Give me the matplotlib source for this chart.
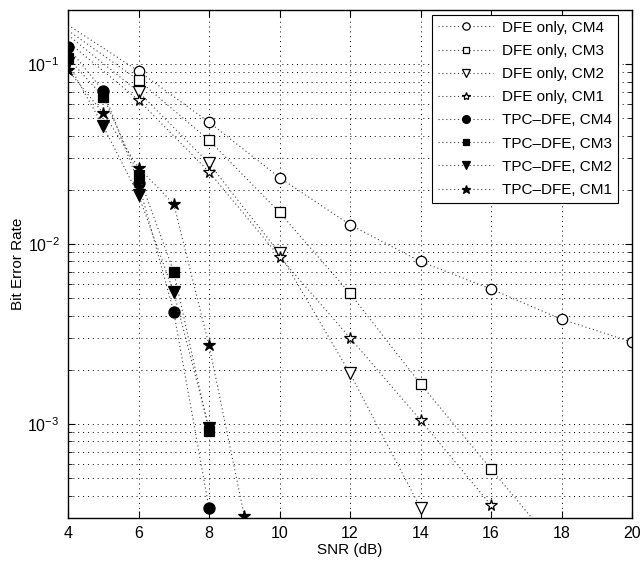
import matplotlib
matplotlib.use("Agg")
import matplotlib.pyplot as plt
from matplotlib.ticker import LogLocator, NullFormatter, FixedLocator

plt.rcParams['font.family'] = ['Liberation Sans', 'DejaVu Sans']
plt.rcParams['mathtext.fontset'] = 'custom'
plt.rcParams['mathtext.rm'] = 'Liberation Sans'

# DFE only (first point at 4 dB drawn as line only)
dfe_x = [4, 6, 8, 10, 12, 14, 16, 18, 20]
dfe_cm4 = [0.165, 0.0915, 0.0476, 0.0234, 0.0128, 0.0080, 0.00562, 0.00382, 0.00285]
dfe_cm3_x = [4, 6, 8, 10, 12, 14, 16, 18]
dfe_cm3 = [0.154, 0.0815, 0.0378, 0.0150, 0.00532, 0.00167, 0.000562, 0.00019]
dfe_cm2_x = [4, 6, 8, 10, 12, 14]
dfe_cm2 = [0.145, 0.0702, 0.0281, 0.0089, 0.00191, 0.000341]
dfe_cm1_x = [4, 6, 8, 10, 12, 14, 16]
dfe_cm1 = [0.133, 0.0631, 0.0252, 0.0085, 0.00301, 0.00105, 0.000353]

# TPC-DFE
tpc_x = [4, 5, 6, 7, 8]
tpc_cm4 = [0.124, 0.071, 0.0219, 0.00419, 0.000341]
tpc_cm3 = [0.108, 0.066, 0.0242, 0.00702, 0.000916]
tpc_cm2 = [0.101, 0.0452, 0.0187, 0.00539, 0.00095]
tpc_cm1_x = [4, 5, 6, 7, 8, 9]
tpc_cm1 = [0.0926, 0.0534, 0.0266, 0.0167, 0.00274, 0.000309]

labels = ['DFE only, CM4', 'DFE only, CM3', 'DFE only, CM2', 'DFE only, CM1',
          'TPC\u2013DFE, CM4', 'TPC\u2013DFE, CM3', 'TPC\u2013DFE, CM2', 'TPC\u2013DFE, CM1']
x_ticks = [4, 6, 8, 10, 12, 14, 16, 18, 20]

fig = plt.figure(figsize=(6.41, 5.61), dpi=100)
ax = fig.add_axes([68/641, 1-518/561, (632-68)/641, (518-10)/561])

ls = (0, (1, 2.5))
lc = '0.25'
lw = 0.8

def dfe(x, y, m, ms, lab):
    ax.plot(x, y, linestyle=ls, color=lc, lw=lw, marker=m, ms=ms, mfc='white',
            mec='k', mew=0.9, markevery=list(range(1, len(x))), label=lab)

def tpc(x, y, m, ms, lab):
    ax.plot(x, y, linestyle=ls, color=lc, lw=lw, marker=m, ms=ms, mfc='k',
            mec='k', mew=0.9, label=lab)

dfe(dfe_x, dfe_cm4, 'o', 7.5, labels[0])
dfe(dfe_cm3_x, dfe_cm3, 's', 7, labels[1])
dfe(dfe_cm2_x, dfe_cm2, 'v', 8, labels[2])
dfe(dfe_cm1_x, dfe_cm1, '*', 8.5, labels[3])
tpc(tpc_x, tpc_cm4, 'o', 8, labels[4])
tpc(tpc_x, tpc_cm3, 's', 7, labels[5])
tpc(tpc_x, tpc_cm2, 'v', 8.5, labels[6])
tpc(tpc_cm1_x, tpc_cm1, '*', 9, labels[7])

ax.set_yscale('log')
ax.set_xlim(4, 20)
ax.set_ylim(3e-4, 0.2)
ax.xaxis.set_major_locator(FixedLocator(x_ticks))
ax.yaxis.set_major_locator(LogLocator(base=10, numticks=10))
ax.yaxis.set_minor_locator(LogLocator(base=10, subs=range(2, 10), numticks=20))
ax.yaxis.set_minor_formatter(NullFormatter())

ax.grid(True, which='both', axis='y', color='k', linestyle=(0, (1, 4)), lw=0.7)
ax.grid(True, which='major', axis='x', color='k', linestyle=(0, (1, 4)), lw=0.7)

ax.tick_params(which='both', direction='in', top=True, right=True, labelsize=11.5)
ax.tick_params(which='major', length=5, pad=6)
ax.tick_params(which='minor', length=3)
for s in ax.spines.values():
    s.set_linewidth(1.0)

ax.set_xlabel('SNR (dB)', fontsize=11, labelpad=1)
ax.set_ylabel('Bit Error Rate', fontsize=11, labelpad=2)

leg = ax.legend(loc='upper right', bbox_to_anchor=(0.976, 0.991), fontsize=11,
                handlelength=3.6, labelspacing=0.6, borderpad=0.4,
                handletextpad=0.6, fancybox=False, framealpha=1, markerscale=0.7,
                edgecolor='k', borderaxespad=0)
leg.get_frame().set_linewidth(0.8)

fig.savefig('out.png', dpi=100)
